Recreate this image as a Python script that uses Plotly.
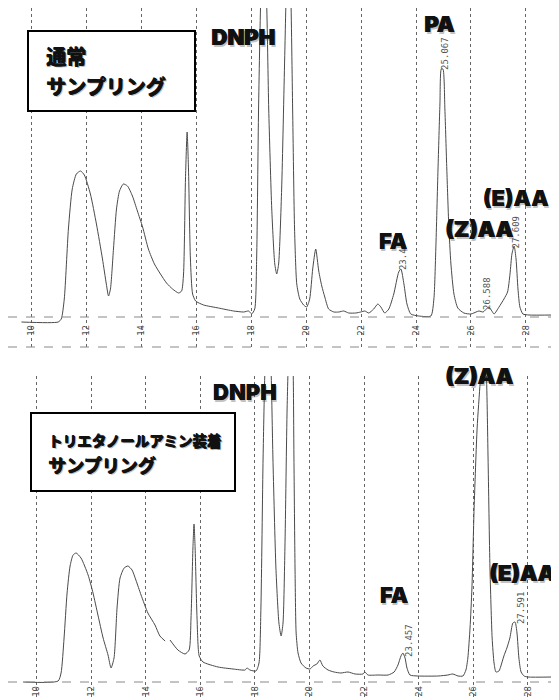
import plotly.graph_objects as go
from plotly.subplots import make_subplots

# ---- Top chromatogram: 通常サンプリング (time [min], intensity [a.u.]) ----
top_time = [9.64, 10.98, 11.09, 11.20, 11.35, 11.49, 11.64, 11.79, 11.93, 12.15, 12.37, 12.59,
            12.73, 12.81, 12.88, 12.99, 13.10, 13.21, 13.35, 13.50, 13.68, 13.86, 14.05, 14.26,
            14.48, 14.70, 14.92, 15.14, 15.36, 15.47, 15.54, 15.61, 15.67, 15.72, 15.79, 15.87,
            15.98, 16.27, 16.81, 17.36, 17.73, 17.91, 18.02, 18.13, 18.20, 18.27, 18.35, 18.45,
            18.56, 18.64, 18.75, 18.86, 18.93, 19.00, 19.11, 19.22, 19.29, 19.37, 19.44, 19.51,
            19.58, 19.66, 19.77, 19.91, 20.02, 20.13, 20.24, 20.35, 20.46, 20.57, 20.68, 20.82,
            21.01, 21.19, 21.37, 21.55, 21.81, 21.99, 22.14, 22.28, 22.46, 22.61, 22.72, 22.86,
            23.01, 23.19, 23.37, 23.45, 23.56, 23.67, 23.81, 24.10, 24.54, 24.65, 24.72, 24.80,
            24.87, 24.92, 24.98, 25.05, 25.12, 25.19, 25.27, 25.38, 25.52, 25.74, 26.00, 26.29,
            26.44, 26.65, 26.76, 26.84, 27.02, 27.20, 27.33, 27.42, 27.49, 27.57, 27.64, 27.71,
            27.78, 27.89, 28.11, 29.02]
top_signal = [0, 0, 3, 23, 93, 133, 148, 151, 147, 128, 98, 63,
              38, 26, 33, 73, 113, 131, 138, 136, 126, 111, 95, 73,
              58, 48, 39, 33, 29, 31, 48, 143, 190, 153, 63, 28,
              21, 17, 14, 11, 10, 11, 8, 13, 63, 213, 323, 380,
              323, 213, 113, 58, 48, 58, 133, 263, 343, 380, 333, 213,
              93, 38, 23, 17, 15, 23, 53, 73, 51, 36, 25, 13,
              10, 10, 11, 9, 9, 10, 11, 9, 13, 18, 15, 9,
              13, 28, 50, 53, 38, 18, 8, 6, 6, 23, 73, 153,
              218, 253, 253, 213, 153, 98, 58, 28, 14, 9, 8, 11,
              10, 15, 11, 8, 15, 23, 30, 48, 68, 76, 63, 33,
              15, 8, 7, 7]

# ---- Bottom chromatogram: トリエタノールアミン装着サンプリング ----
bot_time = [9.51, 10.79, 10.90, 11.01, 11.12, 11.23, 11.34, 11.45, 11.63, 11.89, 12.07, 12.25,
            12.44, 12.62, 12.73, 12.84, 12.95, 13.06, 13.21, 13.35, 13.50, 13.64, 13.83, 14.08,
            14.34, 14.52, 14.71, None, 14.89, 15.18, 15.44, 15.59, 15.66, 15.73, 15.77, 15.81,
            15.88, 15.96, 16.10, 16.65, 17.20, 17.64, 17.71, 17.82, 18.04, 18.15, 18.22, 18.30,
            18.37, 18.48, 18.59, 18.66, 18.77, 18.88, 18.96, 19.03, 19.10, 19.18, 19.25, 19.32,
            19.40, 19.43, 19.47, 19.51, 19.58, 19.69, 19.87, 20.02, 20.13, 20.27, 20.38, 20.49,
            20.68, 20.90, 21.15, 21.41, 21.67, 21.96, 22.03, 22.14, 22.51, 22.88, 23.10, 23.24,
            23.35, 23.42, 23.50, 23.57, 23.68, 23.97, 24.71, 25.07, 25.25, 25.44, 25.62, 25.73,
            25.80, 25.88, 25.95, 26.03, 26.14, 26.25, 26.32, 26.39, 26.47, 26.54, 26.61, 26.69,
            26.76, 26.83, 26.94, 27.01, 27.12, 27.23, 27.34, 27.45, 27.53, 27.60, 27.67, 27.75,
            27.86, 28.00, 28.92]
bot_signal = [0, 1, 9, 44, 89, 116, 127, 129, 124, 107, 89, 67,
              44, 27, 14, 24, 74, 104, 114, 116, 112, 102, 87, 69,
              57, 46, 41, None, 42, 32, 28, 32, 64, 134, 158, 134,
              64, 26, 20, 15, 13, 12, 14, 12, 11, 19, 74, 224,
              314, 374, 314, 224, 114, 59, 46, 59, 134, 274, 344, 374,
              314, 224, 114, 49, 29, 19, 14, 13, 16, 18, 22, 16,
              12, 10, 9, 10, 8, 8, 10, 7, 7, 7, 10, 17,
              26, 29, 24, 14, 7, 6, 6, 7, 8, 6, 6, 12,
              24, 54, 94, 174, 254, 299, 324, 334, 314, 224, 114, 44,
              19, 10, 11, 16, 26, 34, 44, 59, 60, 49, 24, 10,
              6, 5, 5]

tick_vals = [10, 12, 14, 16, 18, 20, 22, 24, 26, 28]
tick_text = ["10", "12", "14", "16", "18", "20", "22", "24", "26", "28"]

# peak names: (text, time, intensity)
top_names = [("DNPH", 17.72, 285), ("PA", 24.85, 298), ("FA", 23.16, 81),
             ("(Z)AA", 26.30, 93), ("(E)AA", 27.62, 124)]
top_rt = [("25.067", 25.05, 269), ("23.4", 23.53, 63), ("26.588", 26.58, 29), ("27.609", 27.62, 90)]
bot_names = [("DNPH", 17.62, 290), ("(Z)AA", 26.21, 306), ("FA", 23.09, 87), ("(E)AA", 27.79, 109)]
bot_rt = [("23.457", 23.64, 42), ("27.591", 27.75, 74)]

# title boxes text
top_title = ["通常", "サンプリング"]
bot_title = ["トリエタノールアミン装着", "サンプリング"]

W, H = 559, 700
fig = make_subplots(rows=2, cols=1)

line_style = dict(color="#4a4a4a", width=1, shape="spline", smoothing=0.6)
fig.add_trace(go.Scatter(x=top_time, y=top_signal, mode="lines", line=line_style,
                         connectgaps=False, hoverinfo="skip"), row=1, col=1)
fig.add_trace(go.Scatter(x=bot_time, y=bot_signal, mode="lines", line=line_style,
                         connectgaps=False, hoverinfo="skip"), row=2, col=1)

xcommon = dict(tickmode="array", tickvals=tick_vals, ticktext=tick_text, tickangle=-90,
               ticks="", showline=False, zeroline=False, showgrid=True, griddash="dot",
               gridcolor="#666666", gridwidth=1, ticklabelposition="inside",
               tickfont=dict(family="DejaVu Sans Mono", size=9, color="#555555"),
               ticklabelstandoff=5)
ycommon = dict(showgrid=False, zeroline=False, showticklabels=False, ticks="", showline=False)

fig.update_layout(
    width=W, height=H, margin=dict(l=0, r=0, t=0, b=0),
    paper_bgcolor="white", plot_bgcolor="white", showlegend=False,
    xaxis=dict(domain=[0, 1], range=[9.152, 29.494], **xcommon),
    yaxis=dict(domain=[1 - 339 / H, 1], range=[-25, 314], **ycommon),
    xaxis2=dict(domain=[0, 1], range=[8.956, 29.432], **xcommon),
    yaxis2=dict(domain=[0, 332 / H], range=[-26, 306], **ycommon),
)

dash = dict(color="#888888", width=1, dash="dash")
shapes = [
    dict(type="line", xref="x domain", yref="y", x0=0, x1=1, y0=5, y1=5, line=dash),
    dict(type="line", xref="x domain", yref="y domain", x0=0, x1=1, y0=0, y1=0, line=dash),
    dict(type="line", xref="x2 domain", yref="y2", x0=0, x1=1, y0=0, y1=0, line=dash),
    # title boxes
    dict(type="rect", xref="paper", yref="paper", x0=20 / W, x1=187 / W,
         y0=1 - 103 / H, y1=1 - 23 / H, line=dict(color="black", width=2), fillcolor="white",
         layer="above"),
    dict(type="rect", xref="paper", yref="paper", x0=23 / W, x1=227 / W,
         y0=1 - 483 / H, y1=1 - 405 / H, line=dict(color="black", width=2), fillcolor="white",
         layer="above"),
]
fig.update_layout(shapes=shapes)

ann = []
jp = "Noto Sans CJK JP"
rt_font = dict(family="DejaVu Sans Mono", size=9, color="#555555")

# soft drop shadow + slightly thickened strokes, as in the scanned figure
label_layers = [(1.5, -1.5, "rgba(80,80,80,0.35)"), (0, 0, "#111111"), (0.5, 0, "#111111")]
title_layers = [(1.5, -1.5, "rgba(80,80,80,0.35)"), (0, 0, "#111111"), (0.7, 0, "#111111"),
                (0, 0.5, "#111111")]


def label(text, x, y, xref, yref):
    for dx, dy, col in label_layers:
        ann.append(dict(text=text, x=x, y=y, xref=xref, yref=yref, showarrow=False,
                        xanchor="center", yanchor="middle", xshift=dx, yshift=dy,
                        font=dict(family="Inter", size=22, color=col, weight=900)))


def title(text, xpx, ypx, size):
    for dx, dy, col in title_layers:
        ann.append(dict(text="<b>%s</b>" % text, x=xpx / W, y=1 - ypx / H, xref="paper",
                        yref="paper", showarrow=False, xanchor="left", yanchor="middle",
                        xshift=dx, yshift=dy, font=dict(family=jp, size=size, color=col)))


for txt, t, v in top_rt:
    ann.append(dict(text=txt, x=t, y=v, xref="x", yref="y", showarrow=False, textangle=-90,
                    font=rt_font, xanchor="center", yanchor="middle"))
for txt, t, v in bot_rt:
    ann.append(dict(text=txt, x=t, y=v, xref="x2", yref="y2", showarrow=False, textangle=-90,
                    font=rt_font, xanchor="center", yanchor="middle"))
for txt, t, v in top_names:
    label(txt, t, v, "x", "y")
for txt, t, v in bot_names:
    label(txt, t, v, "x2", "y2")

for txt, ypx in zip(top_title, [48, 78]):
    title(txt, 36, ypx, 20)
for txt, ypx, sz in zip(bot_title, [432, 457], [14.5, 18]):
    title(txt, 38, ypx, sz)

fig.update_layout(annotations=ann)

fig.write_html("out.html")
